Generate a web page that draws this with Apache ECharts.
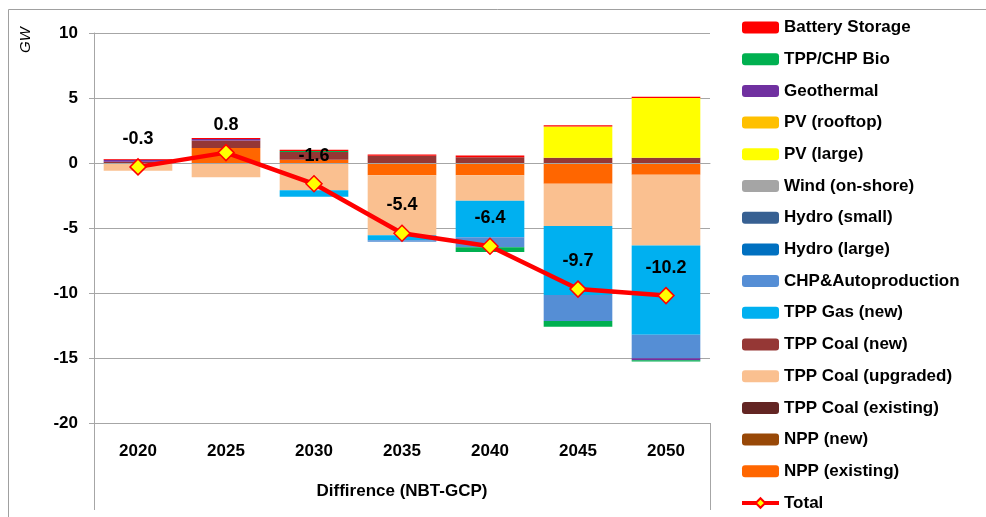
<!DOCTYPE html>
<html>
<head>
<meta charset="utf-8">
<script src="https://cdn.jsdelivr.net/npm/echarts@6/dist/echarts.min.js"></script>
<style>
  html, body { margin: 0; padding: 0; background: #fff; }
  #chart { width: 986px; height: 517px; }
</style>
</head>
<body>
<div id="chart"></div>
<script>
// categories
var years = ['2020', '2025', '2030', '2035', '2040', '2045', '2050'];

// GW difference per technology (NBT - GCP)
var nppExisting   = [0, 1.15, 0.25, -0.95, -0.95, -1.6, -0.9];
var nppNew        = [0, 0, 0, 0, 0, 0, 0];
var coalExisting  = [0, 0, 0, 0, 0, 0, 0];
var coalUpgraded  = [-0.6, -1.1, -2.1, -4.6, -1.95, -3.25, -5.45];
var coalNew       = [0.1, 0.58, 0.6, 0.55, 0.45, 0.4, 0.4];
var gasNew        = [0, 0, -0.5, -0.4, -2.82, -5.3, -6.87];
var chpAuto       = [0, 0, 0, -0.1, -0.77, -2.0, -1.8];
var hydroLarge    = [0, 0, 0, 0, 0, 0, 0];
var hydroSmall    = [0, 0, 0, 0, 0, 0, 0];
var windOnshore   = [0, 0, 0, 0, 0, 0, 0];
var pvLarge       = [0, 0, 0, 0, 0, 2.4, 4.6];
var pvRooftop     = [0, 0, 0, 0, 0, 0, 0];
var geothermal    = [0.15, 0.12, 0, 0, 0, 0, -0.15];
var bio           = [0, 0, 0.08, 0, -0.36, -0.45, -0.1];
var battery       = [0.05, 0.08, 0.08, 0.1, 0.12, 0.1, 0.1];
var total         = [-0.3, 0.8, -1.6, -5.4, -6.4, -9.7, -10.2];

// y axis ticks
var yMin = -20, yMax = 10, yStep = 5;

// stack order, bottom to top
var stackList = [
    { name: 'NPP (existing)',       data: nppExisting,  color: '#FF6600' },
    { name: 'NPP (new)',            data: nppNew,       color: '#984807' },
    { name: 'TPP Coal (existing)',  data: coalExisting, color: '#632523' },
    { name: 'TPP Coal (upgraded)',  data: coalUpgraded, color: '#FAC090' },
    { name: 'TPP Coal (new)',       data: coalNew,      color: '#953735' },
    { name: 'TPP Gas (new)',        data: gasNew,       color: '#00B0F0' },
    { name: 'CHP&Autoproduction',   data: chpAuto,      color: '#558ED5' },
    { name: 'Hydro (large)',        data: hydroLarge,   color: '#0070C0' },
    { name: 'Hydro (small)',        data: hydroSmall,   color: '#376092' },
    { name: 'Wind (on-shore)',      data: windOnshore,  color: '#A5A5A5' },
    { name: 'PV (large)',           data: pvLarge,      color: '#FFFF00' },
    { name: 'PV (rooftop)',         data: pvRooftop,    color: '#FFC000' },
    { name: 'Geothermal',           data: geothermal,   color: '#7030A0' },
    { name: 'TPP/CHP Bio',          data: bio,          color: '#00B050' },
    { name: 'Battery Storage',      data: battery,      color: '#FF0000' }
];

var FONT = 'Liberation Sans, Arial, sans-serif';
var GRID_LINE = '#A6A6A6';
var gridLeft = 94, gridRight = 276, gridTop = 33, gridBottom = 94;

var series = stackList.map(function (s) {
    return {
        name: s.name,
        type: 'bar',
        stack: 'diff',
        barCategoryGap: '22%',
        itemStyle: { color: s.color },
        data: s.data
    };
});

series.push({
    name: 'Total',
    type: 'line',
    z: 5,
    data: total,
    symbol: 'diamond',
    symbolSize: 16,
    lineStyle: { color: '#FF0000', width: 4.5 },
    itemStyle: { color: '#FFFF00', borderColor: '#FF0000', borderWidth: 1.5 },
    label: {
        show: true,
        position: 'top',
        distance: 10,
        fontFamily: FONT,
        fontWeight: 'bold',
        fontSize: 18,
        color: '#000',
        formatter: function (p) { return p.value.toFixed(1); }
    }
});

var legendData = stackList.map(function (s) { return { name: s.name }; }).reverse();
legendData.push({ name: 'Total', lineStyle: { width: 4 } });

var chart = echarts.init(document.getElementById('chart'));
chart.setOption({
    animation: false,
    backgroundColor: '#fff',
    textStyle: { fontFamily: FONT },
    grid: { left: gridLeft, right: gridRight, top: gridTop, bottom: gridBottom },
    legend: {
        orient: 'vertical',
        left: 740,
        top: 19,
        padding: 0,
        itemWidth: 37,
        itemHeight: 12,
        itemGap: 14.7,
        data: legendData,
        textStyle: { fontFamily: FONT, fontWeight: 'bold', fontSize: 17, lineHeight: 17, color: '#000' }
    },
    xAxis: [
        {
            type: 'category',
            data: years,
            position: 'bottom',
            z: 3,
            axisLine: { onZero: true, lineStyle: { color: GRID_LINE } },
            axisTick: { interval: 0, length: 5, lineStyle: { color: GRID_LINE } },
            axisLabel: { show: false }
        },
        {
            type: 'category',
            data: years,
            position: 'bottom',
            axisLine: { onZero: false, lineStyle: { color: GRID_LINE } },
            axisTick: { interval: 0, length: 44, lineStyle: { color: GRID_LINE } },
            axisLabel: { margin: 20, fontFamily: FONT, fontWeight: 'bold', fontSize: 17, color: '#000' },
            name: 'Diffirence (NBT-GCP)',
            nameLocation: 'middle',
            nameGap: 60,
            nameTextStyle: { fontFamily: FONT, fontWeight: 'bold', fontSize: 17, color: '#000' }
        }
    ],
    yAxis: {
        type: 'value',
        min: yMin,
        max: yMax,
        interval: yStep,
        axisLine: { show: true, lineStyle: { color: GRID_LINE } },
        axisTick: { show: true, length: 5, lineStyle: { color: GRID_LINE } },
        splitLine: { lineStyle: { color: GRID_LINE } },
        axisLabel: { margin: 16, fontFamily: FONT, fontWeight: 'bold', fontSize: 17, color: '#000' }
    },
    series: series
});

// frame, axis extensions below the plot and the GW unit
var W = chart.getWidth(), H = chart.getHeight();
var plotRight = W - gridRight, plotBottom = H - gridBottom;
chart.setOption({
    graphic: [
        { type: 'rect', shape: { x: 8.5, y: 9.5, width: W, height: H }, style: { fill: null, stroke: '#A0A0A0', lineWidth: 1 }, silent: true },
        { type: 'line', shape: { x1: gridLeft + 0.5, y1: plotBottom, x2: gridLeft + 0.5, y2: 510 }, style: { stroke: GRID_LINE, lineWidth: 1 }, silent: true },
        { type: 'line', shape: { x1: plotRight + 0.5, y1: plotBottom, x2: plotRight + 0.5, y2: 510 }, style: { stroke: GRID_LINE, lineWidth: 1 }, silent: true },
        { type: 'text', x: 26, y: 40, rotation: Math.PI / 2, style: { text: 'GW', font: 'italic 15px ' + FONT, fill: '#000', align: 'center', verticalAlign: 'middle' }, silent: true }
    ]
});
</script>
</body>
</html>
